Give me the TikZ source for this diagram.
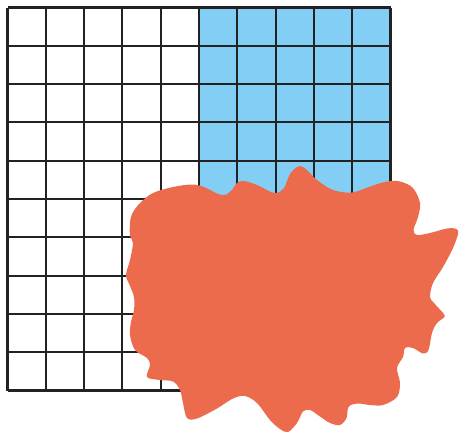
\documentclass[tikz,border=0pt]{standalone}
\usepackage{tikz}
\definecolor{gridblue}{RGB}{130,206,245}
\definecolor{blobred}{RGB}{237,107,77}
\definecolor{gridink}{RGB}{34,34,34}

\begin{document}
\begin{tikzpicture}[x=0.02cm, y=-0.02cm,
        gridline/.style={draw=gridink, line width=1.15pt},
        shaded/.style={fill=gridblue},
        blob/.style={fill=blobred}
    ]
        \useasboundingbox (0,0) rectangle (459,433);

        % 1. The shaded half
        \fill[shaded] (199.0,7.5) rectangle (390.5,390.5);

        % 2. The grid
        \foreach \i in {0,...,10} {
            \draw[gridline] ({7.5+38.3*\i},7.5) -- ({7.5+38.3*\i},390.5);
            \draw[gridline] (7.5,{7.5+38.3*\i}) -- (390.5,{7.5+38.3*\i});
        }

        % 3. The blob
        \fill[blob] plot[smooth cycle, tension=0.55] coordinates {
            (130,223) (132,214) (140,203) (153,193) (173,187) (192,184.5)
            (204,187) (217,193.5) (225,195) (232,190) (237,183) (244,181)
            (257,185) (270,191.5) (277,193) (284,188) (290,174) (297,167)
            (302,166.5) (307,170) (317,180) (333,190) (352,192.5) (370,186.5)
            (387,181.5) (400,181.5) (413,188) (420,203) (418,217) (413.5,230)
            (417,235) (430,233) (447,228.5) (456.5,229) (458,234) (453,248)
            (443,267) (433,283) (430,297) (434,303) (443,313) (444.5,317)
            (437,323) (432,333) (428.5,350) (423,353.5) (413,348) (405,348)
            (403,357) (397,368) (400,383) (397,397) (383,405) (370,405)
            (357,403.5) (348.5,407) (346.5,418) (340,425) (330,423) (320,416.5)
            (310,410) (303,411.5) (297,423) (288,432) (280,429) (270,420)
            (257,403) (245,396) (233,398.5) (217,408.5) (197,418.5) (187,418)
            (183,403) (180,390) (173,381.5) (160,380) (147,377) (150,365)
            (147,358) (135,350) (130,335) (131,322) (134,310) (134,297)
            (130,286) (126,275) (130,260) (133,243) (130,236)
        };
    \end{tikzpicture}
\end{document}
